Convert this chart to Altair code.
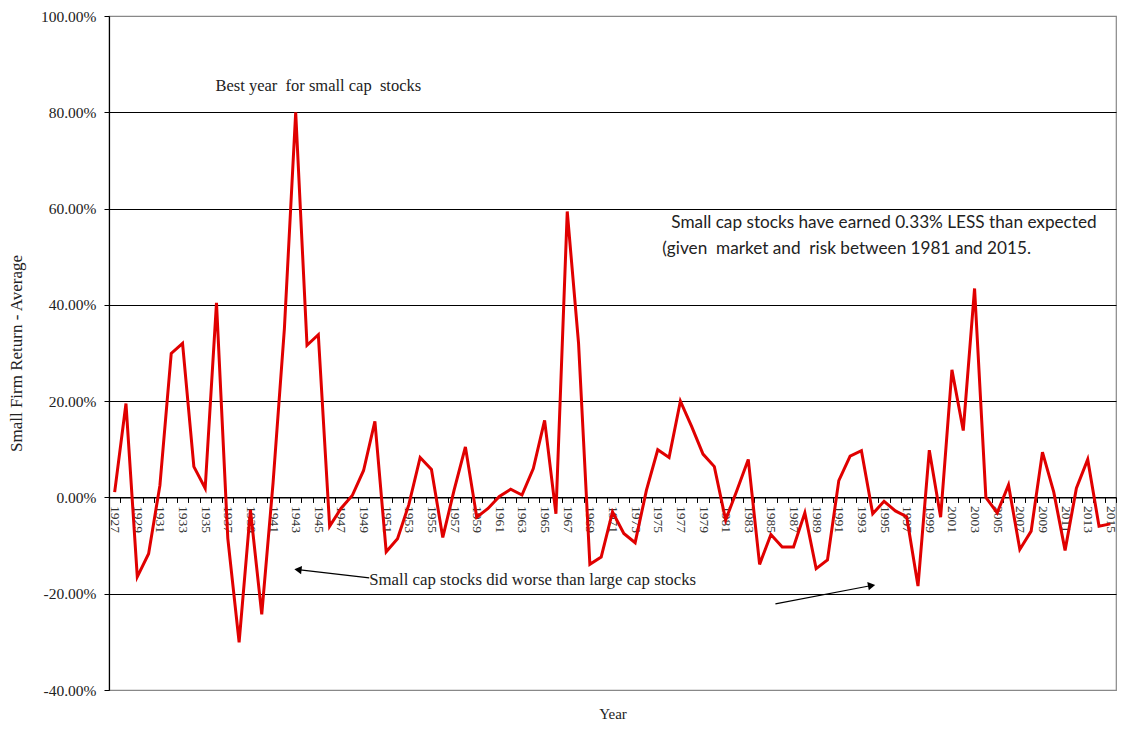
import altair as alt
import pandas as pd

years = list(range(1927, 2016))
returns = [
    1.1, 19.5, -16.5, -11.7, 2.5, 29.9, 32.0, 6.4, 1.9, 40.4,
    -8.5, -30.1, -2.6, -24.3, 3.0, 35.0, 80.0, 31.6, 33.8, -6.0,
    -2.3, 0.4, 5.6, 15.8, -11.3, -8.6, -1.5, 8.3, 5.8, -8.3,
    1.5, 10.5, -4.1, -2.3, 0.2, 1.7, 0.5, 6.0, 16.0, -3.4,
    59.4, 32.0, -13.9, -12.4, -3.0, -7.5, -9.4, 1.5, 9.9, 8.3,
    20.0, 14.7, 9.0, 6.4, -4.7, 1.5, 7.9, -13.9, -7.7, -10.3,
    -10.3, -3.2, -14.8, -13.0, 3.5, 8.6, 9.7, -3.4, -0.8, -2.8,
    -4.0, -18.4, 9.8, -4.1, 26.5, 13.9, 43.4, 0.0, -3.2, 2.6,
    -10.8, -7.0, 9.4, 1.1, -11.0, 1.9, 7.9, -6.0, -5.5,
]
y_ticks = [-40, -20, 0, 20, 40, 60, 80, 100]
label_years = [y for y in years if y % 2 == 1]
boundaries = [y - 0.5 for y in years] + [years[-1] + 0.5]

NB = "\u00a0"
# annotations
best_text = ["Best year " + NB + "for small cap " + NB + "stocks"]
best_year = [1945.0]
best_value = [85.4]

worse_text = ["Small cap stocks did worse than large cap stocks"]
worse_year = [1949.5]
worse_value = [-17.1]

sans_text = ["Small cap stocks have earned 0.33% LESS than expected",
             "(given " + NB + "market and " + NB + "risk between 1981 and 2015."]
sans_year = [1976.2, 1975.4]
sans_value = [56.9, 51.5]

arrow_year = [1949.5, 1985.4]
arrow_value = [-16.7, -22.1]
arrow_year2 = [1943.2, 1993.9]
arrow_value2 = [-15.0, -18.3]
arrow_angle = [186.3, 349.6]

W, H = 1007, 674
YMIN, YMAX = -40, 100
zero_offset = -H * (0 - YMIN) / (YMAX - YMIN)

df = pd.DataFrame({"year": years, "value": returns})
df_best = pd.DataFrame({"year": best_year, "value": best_value, "text": best_text})
df_worse = pd.DataFrame({"year": worse_year, "value": worse_value, "text": worse_text})
df_sans = pd.DataFrame({"year": sans_year, "value": sans_value, "text": sans_text})
df_arrow = pd.DataFrame({"year": arrow_year, "value": arrow_value, "year2": arrow_year2,
                         "value2": arrow_value2, "angle": arrow_angle})

xscale = alt.Scale(domain=[years[0] - 0.5, years[-1] + 0.5], nice=False, zero=False)
yscale = alt.Scale(domain=[YMIN, YMAX], nice=False, zero=False)

x_axis = alt.Axis(
    values=sorted(label_years + boundaries),
    labelExpr="datum.value % 2 == 1 ? '' + datum.value : ''",
    labelAngle=90, labelAlign="left", labelBaseline="middle",
    labelFont="Liberation Serif", labelFontSize=13.5, labelColor="#333333",
    labelOverlap=False, labelFlush=False, labelBound=False, labelPadding=3,
    tickSize=5, tickColor="black",
    tickOpacity={"condition": {"test": "datum.value % 1 == 0", "value": 0}, "value": 1},
    domainColor="black", domainWidth=1.2, grid=False, offset=zero_offset,
    title="Year", titleFont="Liberation Serif", titleFontSize=15, titleFontWeight="normal",
    titleColor="#222222", titleY=-zero_offset + 28, titleBaseline="alphabetic",
)
y_axis = alt.Axis(
    values=y_ticks,
    labelExpr="replace(format(datum.value, '.2f'), '\u2212', '-') + '%'",
    labelFont="Liberation Serif", labelFontSize=15.5, labelColor="#222222", labelPadding=8,
    tickSize=5, tickColor="black", domainColor="black", domainWidth=1.2,
    grid=True, gridOpacity=1, gridWidth=1.2,
    gridColor={"condition": {"test": "datum.value == 100 || datum.value == -40", "value": "#888888"},
               "value": "black"},
    title="Small Firm Return - Average", titleFont="Liberation Serif", titleFontSize=17,
    titleFontWeight="normal", titleColor="#222222", titlePadding=15,
)

X = lambda f: alt.X(f, scale=xscale, axis=x_axis)
Y = lambda f: alt.Y(f, scale=yscale, axis=y_axis)

line = alt.Chart(df).mark_line(color="#E00000", strokeWidth=3).encode(
    x=X("year:Q"), y=Y("value:Q"),
)

best = alt.Chart(df_best).mark_text(
    font="Liberation Serif", fontSize=16.5, color="#222222", baseline="middle", align="center"
).encode(x=X("year:Q"), y=Y("value:Q"), text="text:N")

worse = alt.Chart(df_worse).mark_text(
    font="Liberation Serif", fontSize=16.8, color="#222222", baseline="middle", align="left"
).encode(x=X("year:Q"), y=Y("value:Q"), text="text:N")

sans = alt.Chart(df_sans).mark_text(
    font="Lato", fontSize=17.2, color="#222222", baseline="middle", align="left"
).encode(x=X("year:Q"), y=Y("value:Q"), text="text:N")

arrow_lines = alt.Chart(df_arrow).mark_rule(color="black", strokeWidth=1.2).encode(
    x=X("year:Q"), y=Y("value:Q"), x2="year2:Q", y2="value2:Q",
)
arrow_heads = alt.Chart(df_arrow).mark_point(
    shape="triangle-right", filled=True, color="black", size=70, opacity=1
).encode(
    x=X("year2:Q"), y=Y("value2:Q"),
    angle=alt.Angle("angle:Q", scale=None),
)

chart = alt.layer(line, best, worse, sans, arrow_lines, arrow_heads).properties(
    width=W, height=H,
    autosize=alt.AutoSizeParams(type="none"),
    padding={"left": 101, "top": 8, "right": 6, "bottom": 31},
    background="white",
).configure_view(stroke="#888888", strokeWidth=1.2).configure_axis(labelOverlap=False)

chart.save("out.html", embed_options={"renderer": "svg", "actions": False})
